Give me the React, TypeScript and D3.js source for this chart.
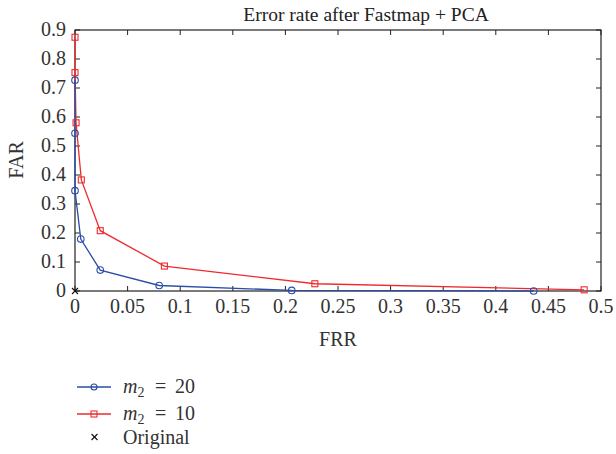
import React from "react";
import * as d3 from "d3";

const blueFRR = [0, 0, 0, 0.0055, 0.024, 0.08, 0.206, 0.436];
const blueFAR = [0.727, 0.544, 0.346, 0.179, 0.072, 0.019, 0.002, 0.0];
const redFRR = [0, 0, 0.001, 0.006, 0.024, 0.085, 0.228, 0.484];
const redFAR = [0.875, 0.753, 0.58, 0.383, 0.208, 0.086, 0.025, 0.004];
const xTicks = [0, 0.05, 0.1, 0.15, 0.2, 0.25, 0.3, 0.35, 0.4, 0.45, 0.5];
const yTicks = [0, 0.1, 0.2, 0.3, 0.4, 0.5, 0.6, 0.7, 0.8, 0.9];
const legendLabels = ["20", "10"];

const BLUE = "#2a4da8";
const RED = "#ee2a2e";
const FONT = "'Liberation Serif', serif";

export default function App() {
  const W = 616, H = 454;
  const L = 75, R = 601, T = 30, B = 291;
  const x = d3.scaleLinear().domain([0, 0.5]).range([L, R]);
  const y = d3.scaleLinear().domain([0, 0.9]).range([B, T]);
  const line = d3.line<[number, number]>().x(d => x(d[0])).y(d => y(d[1]));
  const blue: [number, number][] = blueFRR.map((v, i) => [v, blueFAR[i]]);
  const red: [number, number][] = redFRR.map((v, i) => [v, redFAR[i]]);
  const tl = 5;
  const fs = 20;
  return (
    <svg width={W} height={H} style={{ position: "absolute", left: 0, top: 0 }} fontFamily={FONT}>
      <rect x={0} y={0} width={W} height={H} fill="#fff" />
      <text x={366} y={21} textAnchor="middle" fontSize={19.5} fill="#222">Error rate after Fastmap + PCA</text>
      {xTicks.map((t, i) => (
        <g key={"x" + i}>
          <line x1={x(t)} x2={x(t)} y1={B} y2={B - tl} stroke="#222" />
          <line x1={x(t)} x2={x(t)} y1={T} y2={T + tl} stroke="#222" />
          <text x={x(t)} y={B + 22} textAnchor="middle" fontSize={fs} fill="#333">{t === 0 ? "0" : String(t)}</text>
        </g>
      ))}
      {yTicks.map((t, i) => (
        <g key={"y" + i}>
          <line x1={L} x2={L + tl} y1={y(t)} y2={y(t)} stroke="#222" />
          <line x1={R} x2={R - tl} y1={y(t)} y2={y(t)} stroke="#222" />
          <text x={L - 9} y={y(t) + 6} textAnchor="end" fontSize={fs} fill="#333">{t === 0 ? "0" : String(t)}</text>
        </g>
      ))}
      <rect x={L} y={T} width={R - L} height={B - T} fill="none" stroke="#222" strokeWidth={1.2} />
      <text x={338} y={346} textAnchor="middle" fontSize={fs} fill="#333">FRR</text>
      <text transform="translate(23,160) rotate(-90)" textAnchor="middle" fontSize={fs} fill="#333">FAR</text>
      <path d={line(red) || ""} fill="none" stroke={RED} strokeWidth={1.3} />
      <path d={line(blue) || ""} fill="none" stroke={BLUE} strokeWidth={1.3} />
      {red.map((d, i) => (
        <rect key={"r" + i} x={x(d[0]) - 3} y={y(d[1]) - 3} width={6} height={6} fill="none" stroke={RED} strokeWidth={1.1} />
      ))}
      {blue.map((d, i) => (
        <circle key={"b" + i} cx={x(d[0])} cy={y(d[1])} r={3.3} fill="none" stroke={BLUE} strokeWidth={1.1} />
      ))}
      <g stroke="#111" strokeWidth={1.1}>
        <line x1={x(0) - 3} x2={x(0) + 3} y1={y(0) - 3} y2={y(0) + 3} />
        <line x1={x(0) - 3} x2={x(0) + 3} y1={y(0) + 3} y2={y(0) - 3} />
      </g>
      {[BLUE, RED].map((c, i) => {
        const ly = 387 + i * 27;
        return (
          <g key={"l" + i}>
            <line x1={77} x2={111} y1={ly} y2={ly} stroke={c} strokeWidth={1.3} />
            {i === 0 ? (
              <circle cx={94} cy={ly} r={3} fill="none" stroke={c} strokeWidth={1.1} />
            ) : (
              <rect x={91} y={ly - 3} width={6} height={6} fill="none" stroke={c} strokeWidth={1.1} />
            )}
            <text x={123} y={ly + 6} fontSize={fs} fill="#333">
              <tspan fontStyle="italic">m</tspan>
              <tspan fontSize={14} dy={4}>2</tspan>
            </text>
            <text x={155} y={ly + 6} fontSize={fs} fill="#333">=</text>
            <text x={175} y={ly + 6} fontSize={fs} fill="#333">{legendLabels[i]}</text>
          </g>
        );
      })}
      <g stroke="#111" strokeWidth={1.1}>
        <line x1={91.5} x2={97.5} y1={434} y2={440} />
        <line x1={91.5} x2={97.5} y1={440} y2={434} />
      </g>
      <text x={123} y={444} fontSize={fs} fill="#333">Original</text>
    </svg>
  );
}
